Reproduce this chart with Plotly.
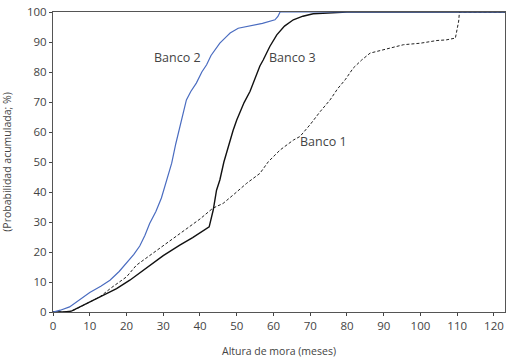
import plotly.graph_objects as go

# Banco 1 (dashed)
b1_x = [0, 4, 6, 9, 12.7, 16, 20, 22.7, 27, 34, 40, 43.5, 46.3, 49.5, 52.7, 56.3, 58.6, 61.8, 65.4, 67.2, 70, 72.7, 75.4, 77.5, 79.5, 81.7, 84, 86.3, 89, 91.7, 95.4, 100, 104.5, 107, 109.5, 110.4, 110.6, 123]
b1_y = [0, 0, 0.8, 2.8, 5, 8.2, 11.7, 15.6, 19.5, 25.6, 31, 34.6, 36.2, 39.5, 42.9, 46.2, 50.1, 54, 57.3, 58.5, 62.5, 66.8, 70.7, 74.5, 77.4, 81.3, 84, 86.3, 87.2, 88, 89.1, 89.6, 90.5, 90.7, 91.3, 97, 100, 100]

# Banco 2 (blue)
b2_x = [0, 2, 4.5, 7, 10, 13, 15.5, 18, 20, 22, 23.6, 25, 26.3, 28, 29.5, 30.9, 32.3, 33.4, 34.5, 35.4, 36.3, 37.5, 39, 40.5, 41.8, 43, 45.4, 47.2, 48.2, 50.4, 52, 54.5, 57, 60.4, 61.2, 61.8, 123]
b2_y = [0, 0.6, 1.7, 3.8, 6.5, 8.6, 10.6, 13.5, 16.5, 19.2, 22, 25.5, 29.5, 33.5, 38, 44, 49.6, 56, 61.8, 66.5, 70.7, 73.5, 76.3, 80, 82.4, 85.5, 89.6, 91.8, 93, 94.6, 95, 95.8, 96.2, 97.4, 98.5, 100, 100]

# Banco 3 (black)
b3_x = [0, 3, 5, 7.5, 10, 13, 17.3, 20.9, 24, 26.3, 30, 34.5, 38, 42.5, 43.6, 44.5, 45.4, 46.5, 48.2, 49, 50, 51, 52, 53.6, 55, 56.3, 57.2, 59, 60.9, 63, 65.4, 68, 70.8, 75.4, 80, 84, 123]
b3_y = [0, 0, 0.3, 1.8, 3.3, 5, 7.8, 10.6, 13.5, 15.6, 18.8, 22.3, 24.8, 28.4, 34, 40.6, 44, 50, 57.3, 60.5, 64, 67, 69.8, 73.5, 78, 82, 84, 88.5, 92.4, 95.3, 97.4, 98.6, 99.4, 99.8, 100, 100, 100]

x_ticks = list(range(0, 121, 10))
y_ticks = list(range(0, 101, 10))

labels = ["Banco 1", "Banco 2", "Banco 3"]
label_x = [73.5, 34, 65.3]
label_y = [56.7, 85, 85]

font_family = "Open Sans, Liberation Sans, Arial, sans-serif"
txt_color = "#444444"

fig = go.Figure()
fig.add_trace(go.Scatter(x=b1_x, y=b1_y, mode="lines", name="Banco 1",
                         line=dict(color="#222222", width=1.0, dash="3px,2px")))
fig.add_trace(go.Scatter(x=b3_x, y=b3_y, mode="lines", name="Banco 3",
                         line=dict(color="#111111", width=1.4)))
fig.add_trace(go.Scatter(x=b2_x, y=b2_y, mode="lines", name="Banco 2",
                         line=dict(color="#4a6cc0", width=1.2)))

for t, xx, yy in zip(labels, label_x, label_y):
    fig.add_annotation(x=xx, y=yy, text=t, showarrow=False,
                       font=dict(size=12.5, color=txt_color, family=font_family))

fig.update_layout(
    width=509, height=360,
    margin=dict(l=53, r=4, t=12, b=48),
    paper_bgcolor="white", plot_bgcolor="white",
    showlegend=False,
    font=dict(family=font_family, size=11.5, color=txt_color),
)
fig.update_xaxes(range=[0, 123], tickvals=x_ticks, ticks="outside", ticklen=3,
                 tickcolor="#444", showgrid=False, zeroline=False, automargin=False,
                 showline=True, linecolor="#555", linewidth=1, mirror=True,
                 title=dict(text="Altura de mora (meses)", font=dict(size=10.5)),
                 tickfont=dict(size=11.5))
fig.update_yaxes(range=[0, 100], tickvals=y_ticks, ticks="outside", ticklen=3,
                 tickcolor="#444", showgrid=False, zeroline=False, automargin=False,
                 showline=True, linecolor="#555", linewidth=1, mirror=True,
                 title=dict(text="(Probabilidad acumulada; %)", font=dict(size=10.5)),
                 tickfont=dict(size=11.5))

fig.write_html("out.html", config={"displayModeBar": False},
               post_script="document.body.style.margin='0';document.body.style.overflow='hidden';")
